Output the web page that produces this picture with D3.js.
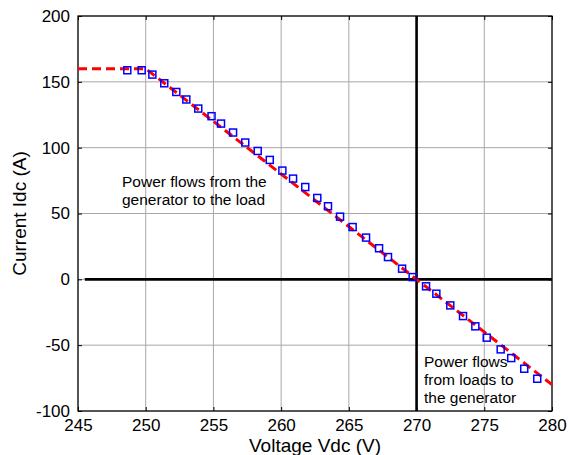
<!DOCTYPE html>
<html>
<head>
<meta charset="utf-8">
<script src="https://cdn.jsdelivr.net/npm/d3@7"></script>
<style>
  body { margin: 0; background: #fff; }
  text { font-family: "Liberation Sans", Arial, sans-serif; fill: #000; }
</style>
</head>
<body>
<div id="chart"></div>
<script>
// measured points (blue squares)
const voltage = [248.64, 249.70, 250.49, 251.37, 252.26, 253.00, 253.88, 254.86, 255.56, 256.45,
                 257.35, 258.27, 259.16, 260.09, 260.88, 261.78, 262.67, 263.46, 264.35, 265.28,
                 266.27, 267.23, 267.89, 268.93, 269.71, 270.70, 271.46, 272.49, 273.43, 274.34,
                 275.18, 276.21, 276.99, 277.95, 278.91];
const current = [158.8, 158.8, 155.5, 148.9, 142.3, 136.6, 129.7, 123.9, 118.3, 111.5,
                 103.9, 97.5, 90.7, 82.6, 76.5, 70.1, 61.8, 55.5, 47.6, 39.7,
                 31.7, 23.6, 16.9, 8.1, 1.7, -5.3, -10.9, -19.8, -27.9, -35.7,
                 -44.3, -53.2, -59.8, -67.9, -75.5];

// droop characteristic (red dashed)
const droopV = [245, 250, 270, 280];
const droopI = [160, 160, 0, -80];

const xTicks = [245, 250, 255, 260, 265, 270, 275, 280];
const yTicks = [-100, -50, 0, 50, 100, 150, 200];

const width = 569, height = 455;
const margin = { left: 78, right: 17, top: 16, bottom: 44 };

const svg = d3.select('#chart').append('svg')
    .attr('width', width)
    .attr('height', height);

const x = d3.scaleLinear().domain([245, 280]).range([margin.left, width - margin.right]);
const y = d3.scaleLinear().domain([-100, 200]).range([height - margin.bottom, margin.top]);

// plain hyphen minus, like the original
const fmt = d => String(d);

// grid
svg.append('g').selectAll('line').data(xTicks).enter().append('line')
    .attr('x1', d => x(d)).attr('x2', d => x(d))
    .attr('y1', y(-100)).attr('y2', y(200))
    .attr('stroke', '#a8a8a8').attr('stroke-width', 1);
svg.append('g').selectAll('line').data(yTicks).enter().append('line')
    .attr('x1', x(245)).attr('x2', x(280))
    .attr('y1', d => y(d)).attr('y2', d => y(d))
    .attr('stroke', '#a8a8a8').attr('stroke-width', 1);

// thick reference lines at 0 A and 270 V
svg.append('line')
    .attr('x1', x(245.5)).attr('x2', x(280))
    .attr('y1', y(0)).attr('y2', y(0))
    .attr('stroke', '#000').attr('stroke-width', 2.6);
svg.append('line')
    .attr('x1', x(270)).attr('x2', x(270))
    .attr('y1', y(-100)).attr('y2', y(200))
    .attr('stroke', '#000').attr('stroke-width', 2.6);

// box
svg.append('rect')
    .attr('x', x(245)).attr('y', y(200))
    .attr('width', x(280) - x(245)).attr('height', y(-100) - y(200))
    .attr('fill', 'none').attr('stroke', '#000').attr('stroke-width', 1.2);

// axes (inward ticks, MATLAB style)
const xAxis = svg.append('g')
    .attr('transform', `translate(0,${y(-100)})`)
    .call(d3.axisBottom(x).tickValues(xTicks).tickFormat(fmt).tickSizeInner(-4).tickSizeOuter(0).tickPadding(20));
const yAxis = svg.append('g')
    .attr('transform', `translate(${x(245)},0)`)
    .call(d3.axisLeft(y).tickValues(yTicks).tickFormat(fmt).tickSizeInner(-4).tickSizeOuter(0).tickPadding(8));
[xAxis, yAxis].forEach(g => {
    g.select('.domain').remove();
    g.selectAll('.tick line').attr('stroke', '#000');
    g.selectAll('text').attr('font-size', '17px').attr('font-family', '"Liberation Sans", Arial, sans-serif');
});
xAxis.selectAll('text').attr('dy', '0');
svg.append('g').attr('transform', `translate(0,${y(200)})`)
    .call(d3.axisTop(x).tickValues(xTicks).tickSizeInner(-4).tickSizeOuter(0).tickFormat(''))
    .call(g => g.select('.domain').remove());
svg.append('g').attr('transform', `translate(${x(280)},0)`)
    .call(d3.axisRight(y).tickValues(yTicks).tickSizeInner(-4).tickSizeOuter(0).tickFormat(''))
    .call(g => g.select('.domain').remove());

// droop line
const line = d3.line().x(d => x(d[0])).y(d => y(d[1]));
svg.append('path')
    .datum(d3.zip(droopV, droopI))
    .attr('d', line)
    .attr('fill', 'none')
    .attr('stroke', '#ff0000')
    .attr('stroke-width', 3)
    .attr('stroke-dasharray', '9,5');

// measured squares
const s = 7;
svg.append('g').selectAll('rect')
    .data(d3.zip(voltage, current))
    .enter().append('rect')
    .attr('x', d => x(d[0]) - s / 2)
    .attr('y', d => y(d[1]) - s / 2)
    .attr('width', s).attr('height', s)
    .attr('fill', 'none')
    .attr('stroke', '#0000ff')
    .attr('stroke-width', 1.5);

// annotations
const note1 = svg.append('text').attr('font-size', '15.5px');
note1.append('tspan').attr('x', 122).attr('y', 187).text('Power flows from the');
note1.append('tspan').attr('x', 122).attr('y', 205).text('generator to the load');

const note2 = svg.append('text').attr('font-size', '15.5px');
note2.append('tspan').attr('x', 424).attr('y', 367).text('Power flows');
note2.append('tspan').attr('x', 424).attr('y', 385).text('from loads to');
note2.append('tspan').attr('x', 424).attr('y', 402.5).text('the generator');

// axis titles
svg.append('text')
    .attr('x', (x(245) + x(280)) / 2).attr('y', 452)
    .attr('text-anchor', 'middle')
    .attr('font-size', '19px')
    .text('Voltage Vdc (V)');
svg.append('text')
    .attr('transform', `translate(26,${(y(200) + y(-100)) / 2}) rotate(-90)`)
    .attr('text-anchor', 'middle')
    .attr('font-size', '19px')
    .text('Current Idc (A)');
</script>
</body>
</html>
